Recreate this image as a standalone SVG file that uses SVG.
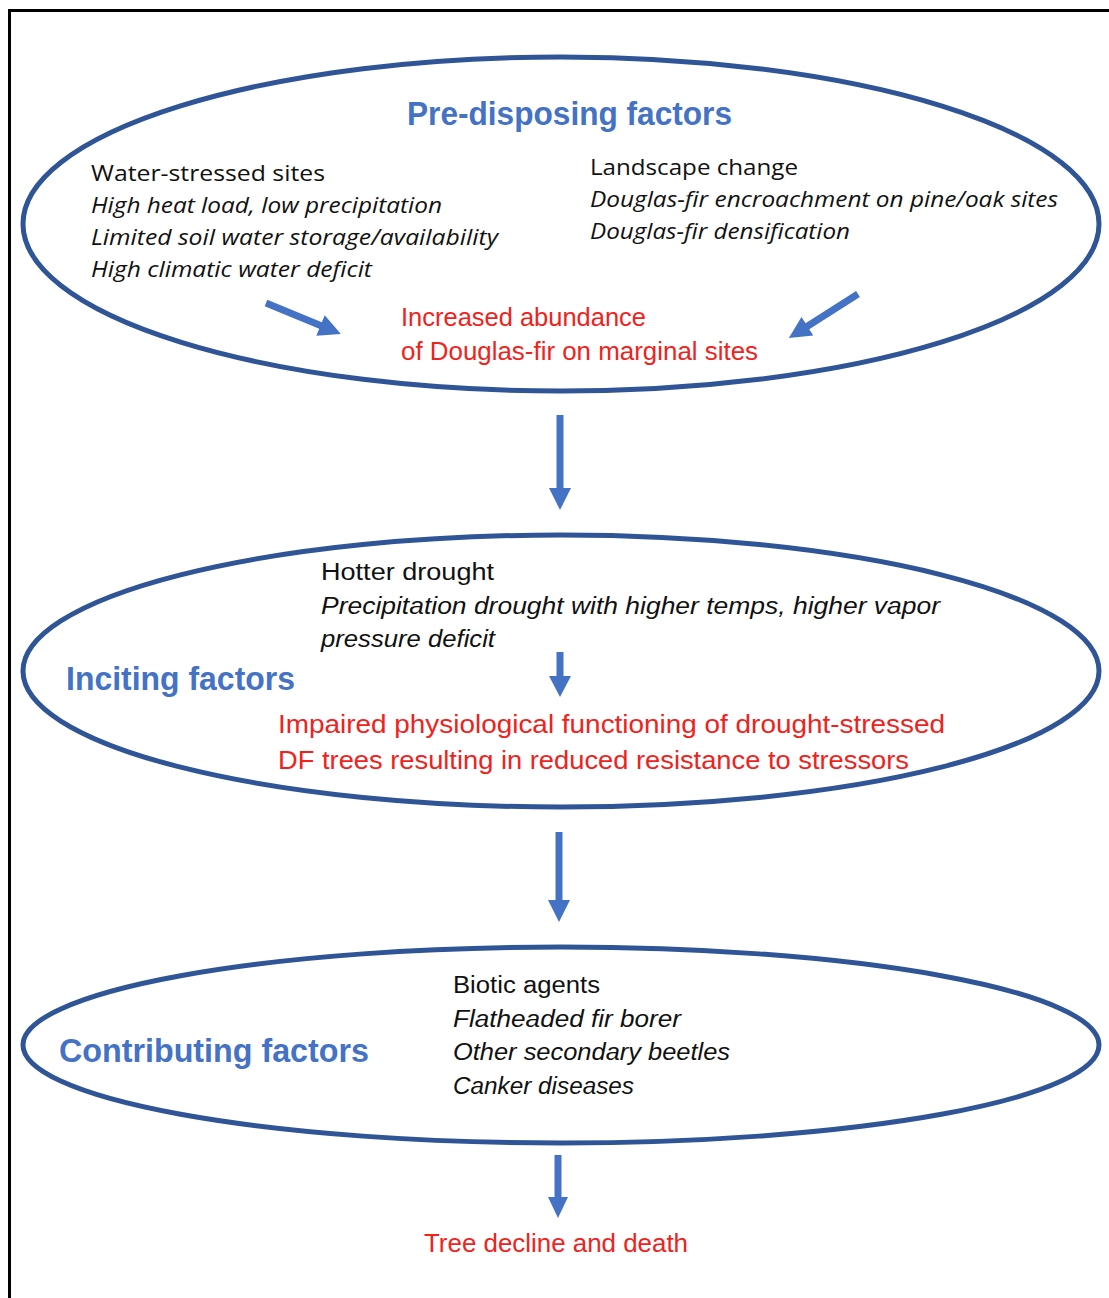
<svg xmlns="http://www.w3.org/2000/svg" width="1109" height="1298" viewBox="0 0 1109 1298">
<style>
.ell{fill:none;stroke:#2f5597;stroke-width:5}
.head{font-family:"Liberation Sans",Arial,sans-serif;font-weight:bold;font-size:33px;fill:#4472c4}
.blk{font-family:"Open Sans","Noto Sans",sans-serif;font-size:22px;fill:#111}
.cal{font-family:"Liberation Sans",Arial,sans-serif;font-size:23px;fill:#111}
.it{font-style:italic}
.red{font-family:"Liberation Sans",Arial,sans-serif;font-size:25px;fill:#f0221c}
.arr{fill:#4472c4}
</style>
<rect width="1109" height="1298" fill="#fff"/>
<path d="M9.5,1298 V10.5 H1109" fill="none" stroke="#000" stroke-width="3"/>

<g id="predisposing">
<ellipse class="ell" cx="561" cy="224" rx="538" ry="167"/>
<text class="head" x="407" y="125" textLength="325" lengthAdjust="spacingAndGlyphs">Pre-disposing factors</text>
<text class="blk" x="91" y="181" textLength="234" lengthAdjust="spacingAndGlyphs">Water-stressed sites</text>
<text class="blk it" x="91" y="213" textLength="351" lengthAdjust="spacingAndGlyphs">High heat load, low precipitation</text>
<text class="blk it" x="91" y="245" textLength="407" lengthAdjust="spacingAndGlyphs">Limited soil water storage/availability</text>
<text class="blk it" x="91" y="277" textLength="281" lengthAdjust="spacingAndGlyphs">High climatic water deficit</text>
<text class="blk" x="590" y="175" textLength="208" lengthAdjust="spacingAndGlyphs">Landscape change</text>
<text class="blk it" x="590" y="207" textLength="468" lengthAdjust="spacingAndGlyphs">Douglas-fir encroachment on pine/oak sites</text>
<text class="blk it" x="590" y="239" textLength="260" lengthAdjust="spacingAndGlyphs">Douglas-fir densification</text>
<text class="red" x="401" y="326" textLength="245" lengthAdjust="spacingAndGlyphs">Increased abundance</text>
<text class="red" x="401" y="360" textLength="357" lengthAdjust="spacingAndGlyphs">of Douglas-fir on marginal sites</text>
</g>

<g id="inciting">
<ellipse class="ell" cx="561" cy="671" rx="538" ry="136"/>
<text class="head" x="66" y="690" textLength="229" lengthAdjust="spacingAndGlyphs">Inciting factors</text>
<text class="cal" x="321" y="580" textLength="173" lengthAdjust="spacingAndGlyphs">Hotter drought</text>
<text class="cal it" x="321" y="614" textLength="619" lengthAdjust="spacingAndGlyphs">Precipitation drought with higher temps, higher vapor</text>
<text class="cal it" x="321" y="647" textLength="174" lengthAdjust="spacingAndGlyphs">pressure deficit</text>
<text class="red" x="278" y="733" textLength="667" lengthAdjust="spacingAndGlyphs">Impaired physiological functioning of drought-stressed</text>
<text class="red" x="278" y="769" textLength="631" lengthAdjust="spacingAndGlyphs">DF trees resulting in reduced resistance to stressors</text>
</g>

<g id="contributing">
<ellipse class="ell" cx="561" cy="1045" rx="538" ry="98"/>
<text class="head" x="59" y="1062" textLength="310" lengthAdjust="spacingAndGlyphs">Contributing factors</text>
<text class="cal" x="453" y="993" textLength="147" lengthAdjust="spacingAndGlyphs">Biotic agents</text>
<text class="cal it" x="453" y="1027" textLength="228" lengthAdjust="spacingAndGlyphs">Flatheaded fir borer</text>
<text class="cal it" x="453" y="1060" textLength="277" lengthAdjust="spacingAndGlyphs">Other secondary beetles</text>
<text class="cal it" x="453" y="1094" textLength="181" lengthAdjust="spacingAndGlyphs">Canker diseases</text>
</g>

<g id="outcome">
<text class="red" x="424" y="1252" textLength="264" lengthAdjust="spacingAndGlyphs">Tree decline and death</text>
</g>

<g id="connectors">
<polygon class="arr" transform="translate(266,303) rotate(22.46)" points="0,-3.5 59,-3.5 59,-11 81,0 59,11 59,3.5 0,3.5"/>
<polygon class="arr" transform="translate(858,294) rotate(147.5)" points="0,-3.5 60,-3.5 60,-11 82,0 60,11 60,3.5 0,3.5"/>
<polygon class="arr" transform="translate(560,415) rotate(90)" points="0,-3.5 73,-3.5 73,-11 95,0 73,11 73,3.5 0,3.5"/>
<polygon class="arr" transform="translate(560,652) rotate(90)" points="0,-3.5 24,-3.5 24,-11 45,0 24,11 24,3.5 0,3.5"/>
<polygon class="arr" transform="translate(559,832) rotate(90)" points="0,-3.5 68,-3.5 68,-11 90,0 68,11 68,3.5 0,3.5"/>
<polygon class="arr" transform="translate(558,1155) rotate(90)" points="0,-3.5 42,-3.5 42,-10 63,0 42,10 42,3.5 0,3.5"/>
</g>
</svg>
